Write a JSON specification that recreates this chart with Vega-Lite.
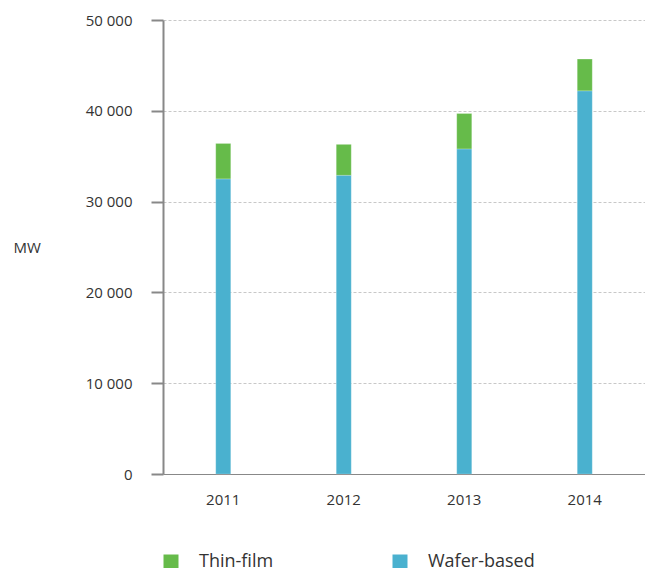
{
  "$schema": "https://vega.github.io/schema/vega-lite/v6.json",
  "width": 482,
  "height": 454,
  "autosize": "none",
  "padding": {"left": 163, "top": 20, "right": 0, "bottom": 94},
  "background": "white",
  "config": {
    "view": {"stroke": null},
    "font": "Open Sans",
    "locale": {"number": {"decimal": ".", "thousands": " ", "grouping": [3], "currency": ["", ""]}}
  },
  "data": {
    "values": [
      {"year": "2011", "type": "Wafer-based", "mw": 32500},
      {"year": "2011", "type": "Thin-film", "mw": 3900},
      {"year": "2012", "type": "Wafer-based", "mw": 32900},
      {"year": "2012", "type": "Thin-film", "mw": 3400},
      {"year": "2013", "type": "Wafer-based", "mw": 35800},
      {"year": "2013", "type": "Thin-film", "mw": 3900},
      {"year": "2014", "type": "Wafer-based", "mw": 42200},
      {"year": "2014", "type": "Thin-film", "mw": 3500}
    ]
  },
  "mark": {"type": "bar", "size": 15, "stroke": "#ffffff", "strokeOpacity": 0.4, "strokeWidth": 0.5},
  "encoding": {
    "x": {
      "field": "year",
      "type": "ordinal",
      "scale": {"paddingInner": 0, "paddingOuter": 0},
      "axis": {
        "title": null,
        "labelAngle": 0,
        "ticks": false,
        "labelPadding": 18,
        "labelFontSize": 15,
        "labelColor": "#333333",
        "domainColor": "#888888",
        "domainWidth": 1.2,
        "grid": false
      }
    },
    "y": {
      "field": "mw",
      "type": "quantitative",
      "stack": "zero",
      "scale": {"domain": [0, 50000]},
      "axis": {
        "title": "MW",
        "titleAngle": 0,
        "titleAlign": "left",
        "titleBaseline": "middle",
        "titleX": -150,
        "titleY": 227,
        "titleFontSize": 15,
        "titleFontWeight": "normal",
        "titleColor": "#333333",
        "values": [0, 10000, 20000, 30000, 40000, 50000],
        "format": ",d",
        "labelFontSize": 15,
        "labelColor": "#333333",
        "labelPadding": 19,
        "tickSize": 12,
        "tickColor": "#888888",
        "tickWidth": 2,
        "domainColor": "#888888",
        "domainWidth": 2,
        "grid": true,
        "gridColor": "#c8c8c8",
        "gridDash": [3, 2],
        "gridWidth": 1
      }
    },
    "color": {
      "field": "type",
      "type": "nominal",
      "scale": {"domain": ["Thin-film", "Wafer-based"], "range": ["#66bb4a", "#4ab1cf"]},
      "legend": {
        "title": null,
        "orient": "none",
        "legendX": -1,
        "legendY": 533,
        "direction": "horizontal",
        "columns": 2,
        "symbolType": "square",
        "symbolSize": 225,
        "symbolStrokeWidth": 0,
        "labelFontSize": 18,
        "labelColor": "#333333",
        "labelOffset": 19,
        "columnPadding": 117,
        "padding": 0
      }
    },
    "order": {"field": "type", "sort": "descending"}
  }
}
